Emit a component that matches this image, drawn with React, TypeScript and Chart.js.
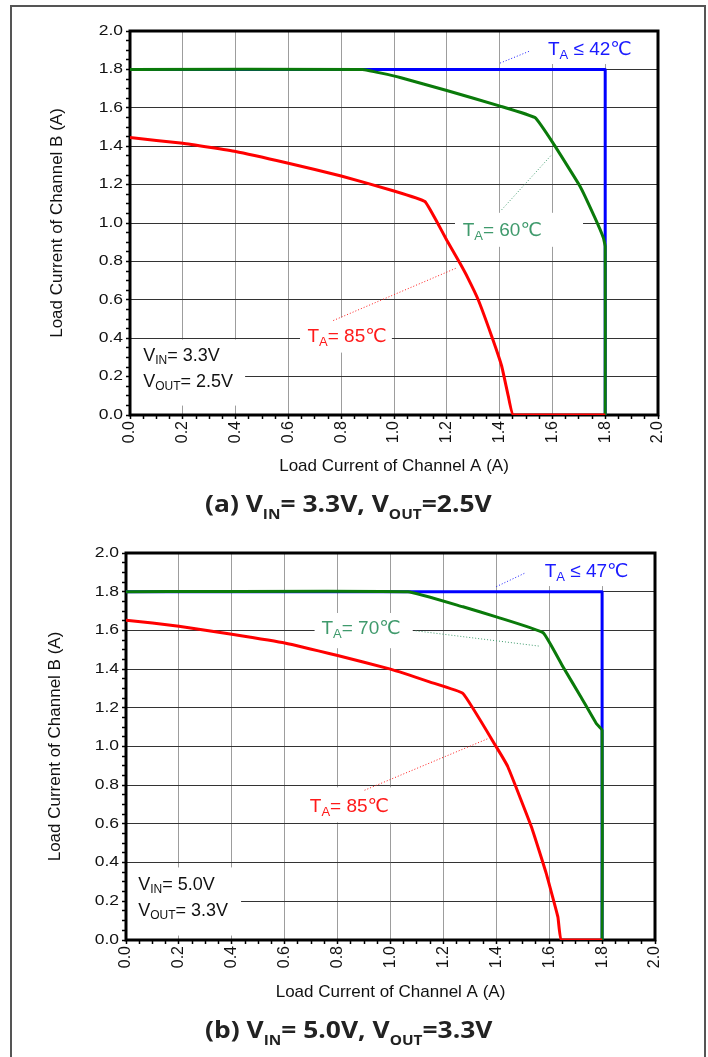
import React, { useEffect, useRef } from "react";
import { Chart, registerables } from "chart.js";

Chart.register(...registerables);

// ---------------- data ----------------
const xTickLabels = ["0.0", "0.2", "0.4", "0.6", "0.8", "1.0", "1.2", "1.4", "1.6", "1.8", "2.0"];
const yTickLabels = ["0.0", "0.2", "0.4", "0.6", "0.8", "1.0", "1.2", "1.4", "1.6", "1.8", "2.0"];

// Panel (a): VIN = 3.3V, VOUT = 2.5V
const aRedX = [0, 0.2, 0.4, 0.6, 0.8, 1.0, 1.117, 1.165, 1.2, 1.25, 1.28, 1.319, 1.37, 1.408, 1.433, 1.452, 1.8];
const aRedY = [1.445, 1.415, 1.372, 1.311, 1.245, 1.167, 1.112, 1.0, 0.91, 0.79, 0.713, 0.6, 0.41, 0.254, 0.098, 0, 0];
const aGreenX = [0, 0.88, 1.023, 1.2, 1.402, 1.534, 1.602, 1.705, 1.76, 1.793, 1.8, 1.8];
const aGreenY = [1.8, 1.8, 1.758, 1.69, 1.609, 1.549, 1.417, 1.19, 1.03, 0.923, 0.878, 0];
const aBlueX = [0, 1.8, 1.8];
const aBlueY = [1.8, 1.8, 0];

// Panel (b): VIN = 5.0V, VOUT = 3.3V
const bRedX = [0, 0.2, 0.4, 0.6, 0.8, 1.0, 1.15, 1.274, 1.4, 1.444, 1.533, 1.589, 1.633, 1.646, 1.8];
const bRedY = [1.653, 1.622, 1.58, 1.535, 1.47, 1.4, 1.333, 1.274, 0.998, 0.894, 0.584, 0.343, 0.118, 0, 0];
const bGreenX = [0, 1.066, 1.274, 1.4, 1.577, 1.652, 1.72, 1.778, 1.8, 1.8];
const bGreenY = [1.8, 1.8, 1.722, 1.67, 1.588, 1.412, 1.256, 1.119, 1.084, 0];
const bBlueX = [0, 1.8, 1.8];
const bBlueY = [1.8, 1.8, 0];

const RED = "#ff0000";
const GREEN = "#0a7a0a";
const BLUE = "#0000ff";
const RED_TXT = "#ff1a1a";
const GREEN_TXT = "#3f9a6c";
const BLUE_TXT = "#1a1aff";

const FONT = '"Liberation Sans", Arial, "DejaVu Sans", sans-serif';

type Part = { t: string; sub?: boolean };
type Note = { parts: Part[]; x: number; y: number; color: string; size: number; subSize: number; subDy: number };
type Box = { x1: number; y1: number; x2: number; y2: number };
type Leader = { x1: number; y1: number; x2: number; y2: number; color: string };
type Series = { name: string; x: number[]; y: number[]; color: string; tension: number };

type PanelProps = {
  top: number;
  height: number;
  padTop: number;
  plotLeft: number;
  plotRight: number;
  xAxisH: number;
  xTitlePad: number;
  yTitlePad: number;
  series: Series[];
  boxes: Box[];
  leaders: Leader[];
  notes: Note[];
};

const isMajor = (v: number) => Math.abs(v * 5 - Math.round(v * 5)) < 1e-6;

function gridColor(color: string) {
  return (c: any) => {
    const v = c.tick ? c.tick.value : null;
    if (v == null) return "rgba(0,0,0,0)";
    if (!isMajor(v) || v < 1e-6 || v > 2 - 1e-6) return "rgba(0,0,0,0)";
    return color;
  };
}

function Panel(p: PanelProps) {
  const ref = useRef<HTMLCanvasElement | null>(null);
  useEffect(() => {
    const canvas = ref.current;
    if (!canvas) return;
    const decor = {
      id: "decor",
      beforeDatasetsDraw(chart: any) {
        const { ctx, chartArea: a } = chart;
        const xs = chart.scales.x;
        const ys = chart.scales.y;
        ctx.save();
        ctx.fillStyle = "#ffffff";
        for (const b of p.boxes) {
          const X1 = xs.getPixelForValue(b.x1);
          const X2 = xs.getPixelForValue(b.x2);
          const Y1 = ys.getPixelForValue(b.y1);
          const Y2 = ys.getPixelForValue(b.y2);
          ctx.fillRect(Math.min(X1, X2), Math.min(Y1, Y2), Math.abs(X2 - X1), Math.abs(Y2 - Y1));
        }
        ctx.strokeStyle = "#000";
        ctx.lineWidth = 3;
        ctx.strokeRect(a.left, a.top, a.right - a.left, a.bottom - a.top);
        ctx.lineWidth = 1;
        ctx.setLineDash([1, 2]);
        for (const l of p.leaders) {
          ctx.strokeStyle = l.color;
          ctx.beginPath();
          ctx.moveTo(xs.getPixelForValue(l.x1), ys.getPixelForValue(l.y1));
          ctx.lineTo(xs.getPixelForValue(l.x2), ys.getPixelForValue(l.y2));
          ctx.stroke();
        }
        ctx.setLineDash([]);
        ctx.textBaseline = "alphabetic";
        ctx.textAlign = "left";
        for (const n of p.notes) {
          let cx = xs.getPixelForValue(n.x);
          const by = ys.getPixelForValue(n.y);
          ctx.fillStyle = n.color;
          for (const part of n.parts) {
            ctx.font = `${part.sub ? n.subSize : n.size}px ${FONT}`;
            ctx.fillText(part.t, cx, by + (part.sub ? n.subDy : 0));
            cx += ctx.measureText(part.t).width;
          }
        }
        ctx.restore();
      },
      afterDraw(chart: any) {
        const { ctx, chartArea: a } = chart;
        const ys = chart.scales.y;
        ctx.save();
        ctx.fillStyle = "#111";
        ctx.font = `14px ${FONT}`;
        ctx.textAlign = "right";
        ctx.textBaseline = "middle";
        yTickLabels.forEach((lab, i) => {
          const py = ys.getPixelForValue(i * 0.2);
          ctx.save();
          ctx.translate(a.left - 7, py);
          ctx.scale(1.25, 1);
          ctx.fillText(lab, 0, 0);
          ctx.restore();
        });
        ctx.restore();
      },
    };

    const chart = new Chart(canvas, {
      type: "line",
      data: {
        datasets: p.series.map((s) => ({
          label: s.name,
          data: s.x.map((x, i) => ({ x, y: s.y[i] })),
          borderColor: s.color,
          backgroundColor: s.color,
          borderWidth: 3,
          pointRadius: 0,
          fill: false,
          tension: s.tension,
          borderJoinStyle: "round" as const,
        })),
      },
      options: {
        animation: false,
        responsive: false,
        maintainAspectRatio: false,
        layout: { padding: { left: 0, top: p.padTop, right: 708 - p.plotRight, bottom: 0 } },
        plugins: { legend: { display: false }, tooltip: { enabled: false } },
        scales: {
          x: {
            type: "linear",
            min: 0,
            max: 2,
            afterFit: (s: any) => {
              s.height = p.xAxisH;
            },
            ticks: {
              stepSize: 0.05,
              maxTicksLimit: 100,
              autoSkip: false,
              minRotation: 90,
              maxRotation: 90,
              padding: 2,
              color: "#111",
              font: { family: FONT, size: 16 },
              callback: (v: any) => (isMajor(Number(v)) ? xTickLabels[Math.round(Number(v) * 5)] : ""),
            },
            grid: {
              color: gridColor("#9d9d9d"),
              lineWidth: 1,
              tickColor: "#000",
              tickWidth: 1.5,
              tickLength: 4,
              drawTicks: true,
            },
            border: { display: false },
            title: {
              display: true,
              text: "Load Current of Channel A (A)",
              color: "#111",
              font: { family: FONT, size: 17 },
              padding: { top: 0, bottom: p.xTitlePad },
            },
          },
          y: {
            type: "linear",
            min: 0,
            max: 2,
            afterFit: (s: any) => {
              s.width = p.plotLeft;
            },
            ticks: {
              stepSize: 0.05,
              maxTicksLimit: 100,
              autoSkip: false,
              padding: 0,
              callback: () => "",
            },
            grid: {
              color: gridColor("#333333"),
              lineWidth: 1,
              tickColor: "#000",
              tickWidth: 1.5,
              tickLength: 4,
              drawTicks: true,
            },
            border: { display: false },
            title: {
              display: true,
              text: "Load Current of Channel B (A)",
              color: "#111",
              font: { family: FONT, size: 17 },
              padding: { top: p.yTitlePad, bottom: 0 },
            },
          },
        },
      },
      plugins: [decor],
    } as any);
    return () => chart.destroy();
  }, []);
  return (
    <canvas
      ref={ref}
      width={708}
      height={p.height}
      style={{ position: "absolute", left: 0, top: p.top, width: 708, height: p.height }}
    />
  );
}

const sub = (t: string) => (
  <span style={{ fontSize: 14, position: "relative", top: 7 }}>{t}</span>
);

const captionStyle: React.CSSProperties = {
  position: "absolute",
  left: 205,
  whiteSpace: "nowrap",
  font: '700 24px "Open Sans", sans-serif',
  lineHeight: "24px",
  color: "#222",
  transform: "scaleX(1.1)",
  transformOrigin: "left center",
};

export default function App() {
  const notesA: Note[] = [
    { parts: [{ t: "T" }, { t: "A", sub: true }, { t: " \u2264 42\u2103" }], x: 1.583, y: 1.875, color: BLUE_TXT, size: 19, subSize: 13, subDy: 4 },
    { parts: [{ t: "T" }, { t: "A", sub: true }, { t: "= 60\u2103" }], x: 1.26, y: 0.934, color: GREEN_TXT, size: 19, subSize: 13, subDy: 4 },
    { parts: [{ t: "T" }, { t: "A", sub: true }, { t: "= 85\u2103" }], x: 0.672, y: 0.379, color: RED_TXT, size: 19, subSize: 13, subDy: 4 },
    { parts: [{ t: "V" }, { t: "IN", sub: true }, { t: "= 3.3V" }], x: 0.05, y: 0.28, color: "#111", size: 18, subSize: 12, subDy: 3 },
    { parts: [{ t: "V" }, { t: "OUT", sub: true }, { t: "= 2.5V" }], x: 0.05, y: 0.147, color: "#111", size: 18, subSize: 12, subDy: 3 },
  ];
  const boxesA: Box[] = [
    { x1: 1.534, y1: 1.995, x2: 1.951, y2: 1.828 },
    { x1: 1.231, y1: 1.053, x2: 1.716, y2: 0.876 },
    { x1: 0.644, y1: 0.507, x2: 0.992, y2: 0.325 },
    { x1: 0, y1: 0.393, x2: 0.436, y2: 0.049 },
  ];
  const leadersA: Leader[] = [
    { x1: 1.402, y1: 1.833, x2: 1.515, y2: 1.896, color: BLUE_TXT },
    { x1: 1.408, y1: 1.069, x2: 1.597, y2: 1.355, color: GREEN_TXT },
    { x1: 0.77, y1: 0.492, x2: 1.239, y2: 0.767, color: RED_TXT },
  ];
  const notesB: Note[] = [
    { parts: [{ t: "T" }, { t: "A", sub: true }, { t: " \u2264 47\u2103" }], x: 1.583, y: 1.877, color: BLUE_TXT, size: 19, subSize: 13, subDy: 4 },
    { parts: [{ t: "T" }, { t: "A", sub: true }, { t: "= 70\u2103" }], x: 0.739, y: 1.581, color: GREEN_TXT, size: 19, subSize: 13, subDy: 4 },
    { parts: [{ t: "T" }, { t: "A", sub: true }, { t: "= 85\u2103" }], x: 0.695, y: 0.66, color: RED_TXT, size: 19, subSize: 13, subDy: 4 },
    { parts: [{ t: "V" }, { t: "IN", sub: true }, { t: "= 5.0V" }], x: 0.046, y: 0.26, color: "#111", size: 18, subSize: 12, subDy: 3 },
    { parts: [{ t: "V" }, { t: "OUT", sub: true }, { t: "= 3.3V" }], x: 0.046, y: 0.122, color: "#111", size: 18, subSize: 12, subDy: 3 },
  ];
  const boxesB: Box[] = [
    { x1: 1.545, y1: 1.995, x2: 1.942, y2: 1.829 },
    { x1: 0.713, y1: 1.69, x2: 1.084, y2: 1.508 },
    { x1: 0.668, y1: 0.789, x2: 1.016, y2: 0.608 },
    { x1: 0, y1: 0.375, x2: 0.435, y2: 0.023 },
  ];
  const leadersB: Leader[] = [
    { x1: 1.4, y1: 1.826, x2: 1.511, y2: 1.898, color: BLUE_TXT },
    { x1: 1.095, y1: 1.598, x2: 1.561, y2: 1.519, color: GREEN_TXT },
    { x1: 0.902, y1: 0.774, x2: 1.369, y2: 1.041, color: RED_TXT },
  ];

  return (
    <div style={{ position: "absolute", left: 0, top: 0, width: 708, height: 1057, overflow: "hidden", background: "#fff" }}>
      <div
        style={{
          position: "absolute",
          left: 10,
          top: 5,
          width: 692,
          height: 1100,
          border: "2px solid #555",
        }}
      />
      <Panel
        top={0}
        height={490}
        padTop={31}
        plotLeft={130}
        plotRight={658}
        xAxisH={75}
        xTitlePad={13}
        yTitlePad={47}
        series={[
          { name: "TA = 85°C", x: aRedX, y: aRedY, color: RED, tension: 0.1 },
          { name: "TA = 60°C", x: aGreenX, y: aGreenY, color: GREEN, tension: 0.1 },
          { name: "TA ≤ 42°C", x: aBlueX, y: aBlueY, color: BLUE, tension: 0 },
        ]}
        boxes={boxesA}
        leaders={leadersA}
        notes={notesA}
      />
      <div style={{ ...captionStyle, top: 491 }}>
        (a) V{sub("IN")}= 3.3V, V{sub("OUT")}=2.5V
      </div>
      <Panel
        top={525}
        height={490}
        padTop={28}
        plotLeft={126}
        plotRight={655}
        xAxisH={75}
        xTitlePad={12}
        yTitlePad={45}
        series={[
          { name: "TA = 85°C", x: bRedX, y: bRedY, color: RED, tension: 0.1 },
          { name: "TA = 70°C", x: bGreenX, y: bGreenY, color: GREEN, tension: 0.1 },
          { name: "TA ≤ 47°C", x: bBlueX, y: bBlueY, color: BLUE, tension: 0 },
        ]}
        boxes={boxesB}
        leaders={leadersB}
        notes={notesB}
      />
      <div style={{ ...captionStyle, top: 1017 }}>
        (b) V{sub("IN")}= 5.0V, V{sub("OUT")}=3.3V
      </div>
    </div>
  );
}
